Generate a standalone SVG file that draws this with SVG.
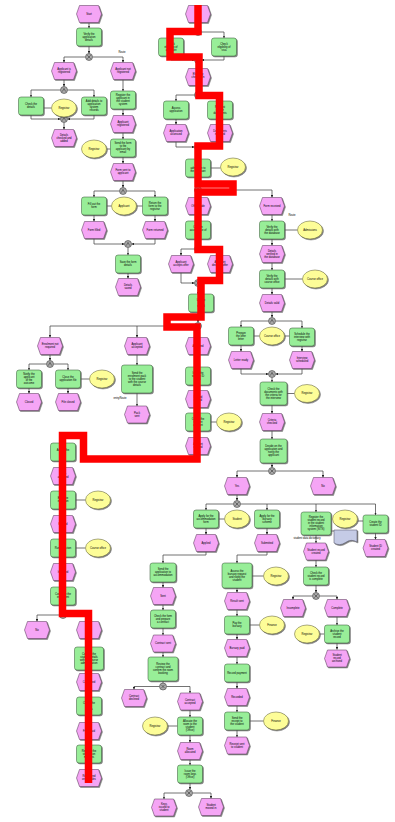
<svg xmlns="http://www.w3.org/2000/svg" width="395" height="822" viewBox="0 0 395 822">
<defs>
<style>
.ev{fill:#f5a5f5;stroke:#5e3e5e;stroke-width:.55;filter:url(#sh)}
.fn{fill:#98ee98;stroke:#3d5d3d;stroke-width:.55;filter:url(#sh)}
.or{fill:#fdfd98;stroke:#66663a;stroke-width:.55;filter:url(#sh)}
.dc{fill:#c5cbe6;stroke:#556;stroke-width:.55;filter:url(#sh)}
#connectors path{fill:none;stroke:#444;stroke-width:.75}
#connectors path.ar{marker-end:url(#ah)}
text{font-family:"Liberation Sans",Arial,sans-serif;font-size:2.7px;text-anchor:middle;fill:#000}
#hl{fill:none;stroke:#ff0000;stroke-width:7.5;stroke-linejoin:miter}
</style>
<filter id="sh" x="-20%" y="-20%" width="150%" height="150%"><feDropShadow dx="1" dy="1" stdDeviation=".35" flood-color="#555" flood-opacity=".75"/></filter>
<marker id="ah" viewBox="0 0 4 4" refX="4" refY="2" markerWidth="2.5" markerHeight="2.5" markerUnits="userSpaceOnUse" orient="auto"><path d="M0,0L4,2L0,4z" fill="#222"/></marker>
<polygon id="ev" points="-12.5,0 -9.5,-8.5 9.5,-8.5 12.5,0 9.5,8.5 -9.5,8.5"/>
<rect id="fn" x="-12.5" y="-9" width="25" height="18" rx="2.5"/>
<ellipse id="or" rx="12.5" ry="9"/>
<g id="xor"><circle r="3.5" fill="#a9a9a9" stroke="#333" stroke-width=".55"/><path d="M-1.7,-1.7L1.7,1.7M1.7,-1.7L-1.7,1.7" fill="none" stroke="#222" stroke-width=".5"/></g>
<g id="and"><circle r="3.5" fill="#a9a9a9" stroke="#333" stroke-width=".55"/><path d="M-1.6,1.5L0,-1.6L1.6,1.5" fill="none" stroke="#222" stroke-width=".5"/></g>
</defs>
<rect width="395" height="822" fill="#fff"/>

<g id="connectors">
<path class="ar" d="M89,22.5V28"/><path class="ar" d="M89,46V53.5"/>
<path class="ar" d="M85.5,57H64V62.5"/><path class="ar" d="M92.5,57H123V62.5"/>
<path class="ar" d="M64,79.5V86.5"/><path class="ar" d="M60.5,90H31V97"/><path class="ar" d="M67.5,90H94V97"/>
<path class="ar" d="M31,115V119H60.5"/><path class="ar" d="M94,115V119H67.5"/><path d="M43.5,108H51.5"/>
<path class="ar" d="M64,122.5V129.5"/><path class="ar" d="M123,79.5V91"/><path class="ar" d="M123,109V115.5"/>
<path class="ar" d="M123,132.5V139"/><path d="M106.5,149H110.5"/><path class="ar" d="M123,157V163.5"/>
<path class="ar" d="M123,180.5V187.5"/><path class="ar" d="M119.5,191H94V197"/><path class="ar" d="M126.5,191H155V197"/>
<path d="M106.5,206H111.5"/><path d="M136.5,206H142.5"/>
<path class="ar" d="M94,215V221.5"/><path class="ar" d="M155,215V221.5"/>
<path class="ar" d="M94,238.5V244H124.5"/><path class="ar" d="M155,238.5V244H131.5"/>
<path class="ar" d="M128,247.5V255"/><path class="ar" d="M128,273V278.5"/>

<path class="ar" d="M198,22.5V28.5"/><path class="ar" d="M194.5,32H171V38"/><path class="ar" d="M201.5,32H224V38"/>
<path class="ar" d="M171,56V60H194.5"/><path class="ar" d="M224,56V60H201.5"/><path class="ar" d="M198,63.5V68.5"/>
<path class="ar" d="M198,85.5V91.5"/><path class="ar" d="M194.5,95H176V101"/><path class="ar" d="M201.5,95H220V101"/>
<path class="ar" d="M176,119V124.5"/><path class="ar" d="M220,119V124.5"/>
<path class="ar" d="M176,141.5V147H194.5"/><path class="ar" d="M220,141.5V147H201.5"/>
<path class="ar" d="M198,150.5V159"/><path d="M210.5,168H220.5"/><path class="ar" d="M198,177V186.5"/>
<path class="ar" d="M198,193.5V197.5"/><path class="ar" d="M201.5,190H272V197.5"/>
<path class="ar" d="M198,214.5V221"/><path class="ar" d="M198,239V245.5"/>
<path class="ar" d="M194.5,249H181V255.5"/><path class="ar" d="M201.5,249H220V255.5"/>
<path class="ar" d="M181,272.5V283H194.5"/><path class="ar" d="M220,272.5V283H201.5"/>
<path class="ar" d="M198,286.5V294"/><path class="ar" d="M198,312V322.5"/>
<path class="ar" d="M194.5,326H50V337.5"/><path class="ar" d="M137,326V337.5"/><path class="ar" d="M198,329.5V337.5"/>
<path class="ar" d="M50,354.5V360.5"/><path class="ar" d="M46.5,364H29V370"/><path class="ar" d="M53.5,364H68V370"/>
<path d="M80.5,379H89.5"/><path class="ar" d="M29,388V393.5"/><path class="ar" d="M68,388V393.5"/>
<path class="ar" d="M137,354.5V365"/><path class="ar" d="M137,393V406"/>
<path class="ar" d="M198,354.5V367"/><path class="ar" d="M198,385V390.5"/><path class="ar" d="M198,407.5V413"/>
<path d="M210.5,422H216.5"/><path class="ar" d="M198,431V437.5"/>
<path class="ar" d="M198,454.5V459H83.5V435.5H63V443"/>
<path class="ar" d="M63,461V467.5"/><path class="ar" d="M63,484.5V491"/><path d="M75.5,500H85.5"/>
<path class="ar" d="M63,509V515.5"/><path class="ar" d="M63,532.5V539"/><path d="M75.5,548H85.5"/>
<path class="ar" d="M63,557V563.5"/><path class="ar" d="M63,580.5V587"/><path class="ar" d="M63,605V611.5"/>
<path class="ar" d="M59.5,615H37V621.5"/><path class="ar" d="M66.5,615H89V621.5"/>
<path class="ar" d="M89,638.5V647"/><path class="ar" d="M89,670V673.5"/><path class="ar" d="M89,690.5V697"/>
<path class="ar" d="M89,715V722.5"/><path class="ar" d="M89,739.5V745"/><path class="ar" d="M89,763V769.5"/>

<path class="ar" d="M272,214.5V221"/><path d="M284.5,230H297.5"/><path class="ar" d="M272,239V245.5"/>
<path class="ar" d="M272,262.5V270"/><path d="M284.5,279H302.5"/><path class="ar" d="M272,288V294.5"/>
<path class="ar" d="M272,311.5V317.5"/><path class="ar" d="M268.5,321H241V327"/><path class="ar" d="M275.5,321H302V328"/>
<path d="M253.5,336H259.5"/><path d="M284.5,336H289.5"/>
<path class="ar" d="M241,345V351.5"/><path class="ar" d="M302,346V351.5"/>
<path class="ar" d="M241,368.5V374H268.5"/><path class="ar" d="M302,368.5V374H275.5"/>
<path class="ar" d="M272,377.5V382"/><path d="M287,393.5H294.5"/><path class="ar" d="M272,405V413.5"/>
<path class="ar" d="M272,430.5V439"/><path class="ar" d="M272,463V467.5"/>
<path class="ar" d="M268.5,471H237V477.5"/><path class="ar" d="M275.5,471H323V477.5"/>
<path class="ar" d="M237,494.5V500.5"/><path class="ar" d="M233.5,504H206V510"/><path class="ar" d="M240.5,504H375.5V515"/>
<path class="ar" d="M267,504V510"/><path class="ar" d="M316,504V512"/>
<path d="M218.5,519H224.5"/><path d="M357.5,521H363"/><path d="M331,531H334"/>
<path class="ar" d="M206,528V534.5"/><path class="ar" d="M267,528V534.5"/><path class="ar" d="M316,535V543"/><path class="ar" d="M375.5,533V539.5"/>
<path class="ar" d="M206,551.5V555H163V563"/><path class="ar" d="M267,551.5V555H237V563"/>
<path d="M252,576H263.5"/><path class="ar" d="M316,560V567"/><path class="ar" d="M316,585V592.5"/>
<path class="ar" d="M312.5,596H293V599.5"/><path class="ar" d="M319.5,596H337V599.5"/>
<path class="ar" d="M337,616.5V625"/><path d="M319.5,634H324"/><path class="ar" d="M337,643V649.5"/>
<path class="ar" d="M237,588V592.5"/><path class="ar" d="M237,609.5V616"/><path d="M249.5,625H259.5"/>
<path class="ar" d="M237,634V639.5"/><path class="ar" d="M237,656.5V664"/><path class="ar" d="M237,682V688.5"/>
<path class="ar" d="M237,705.5V712"/><path d="M249.5,721H263.5"/><path class="ar" d="M237,730V737"/>
<path class="ar" d="M163,582V587.5"/><path class="ar" d="M163,604.5V610"/><path class="ar" d="M163,628V635"/>
<path class="ar" d="M163,652V657"/><path d="M163,681V683"/>
<path class="ar" d="M159.5,686.5H134V689.5"/><path class="ar" d="M166.5,686.5H190V693"/>
<path class="ar" d="M190,710V717"/><path d="M167.5,726H177.5"/><path class="ar" d="M190,735V742.5"/>
<path class="ar" d="M190,759.5V765"/><path class="ar" d="M190,783V789.5"/>
<path class="ar" d="M185.5,793H164V799"/><path class="ar" d="M192.5,793H211V798.5"/>
</g>

<g id="c1" transform="translate(89,57)"><use href="#xor"/></g>
<g id="c2" transform="translate(64,90)"><use href="#and"/></g>
<g id="c3" transform="translate(64,119)"><use href="#and"/></g>
<g id="c4" transform="translate(123,191)"><use href="#and"/></g>
<g id="c5" transform="translate(128,244)"><use href="#and"/></g>
<g id="c6" transform="translate(198,32)"><use href="#xor"/></g>
<g id="c7" transform="translate(198,60)"><use href="#xor"/></g>
<g id="c8" transform="translate(198,95)"><use href="#and"/></g>
<g id="c9" transform="translate(198,147)"><use href="#and"/></g>
<g id="c10" transform="translate(198,190)"><use href="#and"/></g>
<g id="c11" transform="translate(198,249)"><use href="#xor"/></g>
<g id="c12" transform="translate(198,283)"><use href="#xor"/></g>
<g id="c13" transform="translate(198,326)"><use href="#xor"/></g>
<g id="c14" transform="translate(50,364)"><use href="#and"/></g>
<g id="c15" transform="translate(63,615)"><use href="#xor"/></g>
<g id="c16" transform="translate(272,321)"><use href="#and"/></g>
<g id="c17" transform="translate(272,374)"><use href="#and"/></g>
<g id="c18" transform="translate(272,471)"><use href="#xor"/></g>
<g id="c19" transform="translate(237,504)"><use href="#xor"/></g>
<g id="c20" transform="translate(316,596)"><use href="#xor"/></g>
<g id="c21" transform="translate(163,686.5)"><use href="#xor"/></g>
<g id="c22" transform="translate(189,793)"><use href="#xor"/></g>

<text x="122" y="53">Route</text>
<text x="292" y="216">Route</text>
<text x="120" y="399">entryRoute</text>
<text x="307" y="538.5">student data dictionary</text>

<g id="e1" transform="translate(89,14)"><use class="ev" href="#ev"/><text y=".9">Start</text></g>
<g id="f1" transform="translate(89,37)"><use class="fn" href="#fn"/><text><tspan x="0" y="-2.1">Verify the</tspan><tspan x="0" y=".9">application</tspan><tspan x="0" y="3.9">details</tspan></text></g>
<g id="e2" transform="translate(64,71)"><use class="ev" href="#ev"/><text><tspan x="0" y="-.6">Applicant is</tspan><tspan x="0" y="2.4">registered</tspan></text></g>
<g id="e3" transform="translate(123,71)"><use class="ev" href="#ev"/><text><tspan x="0" y="-.6">Applicant not</tspan><tspan x="0" y="2.4">registered</tspan></text></g>
<g id="f2" transform="translate(31,106)"><use class="fn" href="#fn"/><text><tspan x="0" y="-.6">Check the</tspan><tspan x="0" y="2.4">details</tspan></text></g>
<g id="o1" transform="translate(64,108)"><use class="or" href="#or"/><text y=".9">Registrar</text></g>
<g id="f3" transform="translate(94,106)"><use class="fn" href="#fn"/><text><tspan x="0" y="-3.6">Add details to</tspan><tspan x="0" y="-.6">application</tspan><tspan x="0" y="2.4">system</tspan><tspan x="0" y="5.4">records</tspan></text></g>
<g id="e4" transform="translate(64,138)"><use class="ev" href="#ev"/><text><tspan x="0" y="-2.1">Details</tspan><tspan x="0" y=".9">checked and</tspan><tspan x="0" y="3.9">added</tspan></text></g>
<g id="f4" transform="translate(123,100)"><use class="fn" href="#fn"/><text><tspan x="0" y="-3.6">Register the</tspan><tspan x="0" y="-.6">applicant in</tspan><tspan x="0" y="2.4">the student</tspan><tspan x="0" y="5.4">system</tspan></text></g>
<g id="e5" transform="translate(123,124)"><use class="ev" href="#ev"/><text><tspan x="0" y="-.6">Applicant</tspan><tspan x="0" y="2.4">registered</tspan></text></g>
<g id="f5" transform="translate(123,148)"><use class="fn" href="#fn"/><text><tspan x="0" y="-3.6">Send the form</tspan><tspan x="0" y="-.6">to the</tspan><tspan x="0" y="2.4">applicant by</tspan><tspan x="0" y="5.4">email</tspan></text></g>
<g id="o2" transform="translate(94,149)"><use class="or" href="#or"/><text y=".9">Registrar</text></g>
<g id="e6" transform="translate(123,172)"><use class="ev" href="#ev"/><text><tspan x="0" y="-.6">Form sent to</tspan><tspan x="0" y="2.4">applicant</tspan></text></g>
<g id="f6" transform="translate(94,206)"><use class="fn" href="#fn"/><text><tspan x="0" y="-.6">Fill out the</tspan><tspan x="0" y="2.4">form</tspan></text></g>
<g id="o3" transform="translate(124,206)"><use class="or" href="#or"/><text y=".9">Applicant</text></g>
<g id="f7" transform="translate(155,206)"><use class="fn" href="#fn"/><text><tspan x="0" y="-2.1">Return the</tspan><tspan x="0" y=".9">form to the</tspan><tspan x="0" y="3.9">registrar</tspan></text></g>
<g id="e7" transform="translate(94,230)"><use class="ev" href="#ev"/><text y=".9">Form filled</text></g>
<g id="e8" transform="translate(155,230)"><use class="ev" href="#ev"/><text y=".9">Form returned</text></g>
<g id="f8" transform="translate(128,264)"><use class="fn" href="#fn"/><text><tspan x="0" y="-.6">Save the form</tspan><tspan x="0" y="2.4">details</tspan></text></g>
<g id="e9" transform="translate(128,287)"><use class="ev" href="#ev"/><text><tspan x="0" y="-.6">Details</tspan><tspan x="0" y="2.4">saved</tspan></text></g>

<g id="e10" transform="translate(198,14)"><use class="ev" href="#ev"/><text y=".9">Start</text></g>
<g id="f9" transform="translate(171,47)"><use class="fn" href="#fn"/><text><tspan x="0" y="-2.1">Check</tspan><tspan x="0" y=".9">eligibility of</tspan><tspan x="0" y="3.9">applicant</tspan></text></g>
<g id="f10" transform="translate(224,47)"><use class="fn" href="#fn"/><text><tspan x="0" y="-2.1">Check</tspan><tspan x="0" y=".9">eligibility of</tspan><tspan x="0" y="3.9">visa</tspan></text></g>
<g id="e11" transform="translate(198,77)"><use class="ev" href="#ev"/><text><tspan x="0" y="-2.1">Eligibility</tspan><tspan x="0" y=".9">checked in</tspan><tspan x="0" y="3.9">full</tspan></text></g>
<g id="f11" transform="translate(176,110)"><use class="fn" href="#fn"/><text><tspan x="0" y="-.6">Assess</tspan><tspan x="0" y="2.4">application</tspan></text></g>
<g id="f12" transform="translate(220,110)"><use class="fn" href="#fn"/><text><tspan x="0" y="-2.1">Request</tspan><tspan x="0" y=".9">further</tspan><tspan x="0" y="3.9">documents</tspan></text></g>
<g id="e12" transform="translate(176,133)"><use class="ev" href="#ev"/><text><tspan x="0" y="-.6">Application</tspan><tspan x="0" y="2.4">assessed</tspan></text></g>
<g id="e13" transform="translate(220,133)"><use class="ev" href="#ev"/><text><tspan x="0" y="-.6">Documents</tspan><tspan x="0" y="2.4">received</tspan></text></g>
<g id="f13" transform="translate(198,168)"><use class="fn" href="#fn"/><text><tspan x="0" y="-2.1">Offer</tspan><tspan x="0" y=".9">admission to</tspan><tspan x="0" y="3.9">the applicant</tspan></text></g>
<g id="o4" transform="translate(233,167)"><use class="or" href="#or"/><text y=".9">Registrar</text></g>
<g id="e14" transform="translate(198,206)"><use class="ev" href="#ev"/><text y=".9">Offer made</text></g>
<g id="f14" transform="translate(198,230)"><use class="fn" href="#fn"/><text><tspan x="0" y="-2.1">Confirm</tspan><tspan x="0" y=".9">acceptance of</tspan><tspan x="0" y="3.9">offer</tspan></text></g>
<g id="e16" transform="translate(181,264)"><use class="ev" href="#ev"/><text><tspan x="0" y="-.6">Applicant</tspan><tspan x="0" y="2.4">accepts offer</tspan></text></g>
<g id="e17" transform="translate(220,264)"><use class="ev" href="#ev"/><text><tspan x="0" y="-.6">Applicant</tspan><tspan x="0" y="2.4">declines offer</tspan></text></g>
<g id="f15" transform="translate(201,303)"><use class="fn" href="#fn"/><text><tspan x="0" y="-2.1">Update</tspan><tspan x="0" y=".9">the</tspan><tspan x="0" y="3.9">record</tspan></text></g>
<g id="e18" transform="translate(50,346)"><use class="ev" href="#ev"/><text><tspan x="0" y="-.6">Enrolment not</tspan><tspan x="0" y="2.4">required</tspan></text></g>
<g id="f16" transform="translate(29,379)"><use class="fn" href="#fn"/><text><tspan x="0" y="-3.6">Notify the</tspan><tspan x="0" y="-.6">applicant</tspan><tspan x="0" y="2.4">of the</tspan><tspan x="0" y="5.4">outcome</tspan></text></g>
<g id="f17" transform="translate(68,379)"><use class="fn" href="#fn"/><text><tspan x="0" y="-.6">Close the</tspan><tspan x="0" y="2.4">application file</tspan></text></g>
<g id="o5" transform="translate(102,379)"><use class="or" href="#or"/><text y=".9">Registrar</text></g>
<g id="e21" transform="translate(29,402)"><use class="ev" href="#ev"/><text y=".9">Closed</text></g>
<g id="e22" transform="translate(68,402)"><use class="ev" href="#ev"/><text y=".9">File closed</text></g>
<g id="e19" transform="translate(137,346)"><use class="ev" href="#ev"/><text><tspan x="0" y="-.6">Applicant</tspan><tspan x="0" y="2.4">accepted</tspan></text></g>
<g id="f18" transform="translate(137,379)"><rect class="fn" x="-15.5" y="-14" width="31" height="28" rx="2.5"/><text><tspan x="0" y="-5.1">Send the</tspan><tspan x="0" y="-2.1">enrolment pack</tspan><tspan x="0" y=".9">to the student</tspan><tspan x="0" y="3.9">with the course</tspan><tspan x="0" y="6.9">details</tspan></text></g>
<g id="e23" transform="translate(137,414.5)"><use class="ev" href="#ev"/><text><tspan x="0" y="-.6">Pack</tspan><tspan x="0" y="2.4">sent</tspan></text></g>
<g id="e20" transform="translate(198,346)"><use class="ev" href="#ev"/><text y=".9">Accepted</text></g>
<g id="f19" transform="translate(198,376)"><use class="fn" href="#fn"/><text><tspan x="0" y="-2.1">Issue the</tspan><tspan x="0" y=".9">student ID</tspan><tspan x="0" y="3.9">card</tspan></text></g>
<g id="e24" transform="translate(198,399)"><use class="ev" href="#ev"/><text><tspan x="0" y="-.6">ID card</tspan><tspan x="0" y="2.4">issued</tspan></text></g>
<g id="f20" transform="translate(198,422)"><use class="fn" href="#fn"/><text><tspan x="0" y="-2.1">Create the</tspan><tspan x="0" y=".9">student</tspan><tspan x="0" y="3.9">account</tspan></text></g>
<g id="o6" transform="translate(229,422)"><use class="or" href="#or"/><text y=".9">Registrar</text></g>
<g id="e25" transform="translate(198,446)"><use class="ev" href="#ev"/><text><tspan x="0" y="-.6">Account</tspan><tspan x="0" y="2.4">created</tspan></text></g>
<g id="f21" transform="translate(63,452)"><use class="fn" href="#fn"/><text><tspan x="0" y="-.6">Assign the</tspan><tspan x="0" y="2.4">tutor</tspan></text></g>
<g id="e26" transform="translate(63,476)"><use class="ev" href="#ev"/><text><tspan x="0" y="-.6">Tutor</tspan><tspan x="0" y="2.4">assigned</tspan></text></g>
<g id="f22" transform="translate(63,500)"><use class="fn" href="#fn"/><text><tspan x="0" y="-.6">Book the</tspan><tspan x="0" y="2.4">induction</tspan></text></g>
<g id="o7" transform="translate(98,500)"><use class="or" href="#or"/><text y=".9">Registrar</text></g>
<g id="e27" transform="translate(63,524)"><use class="ev" href="#ev"/><text y=".9">Booked</text></g>
<g id="f23" transform="translate(63,548)"><use class="fn" href="#fn"/><text y=".9">Run induction</text></g>
<g id="o8" transform="translate(98,548)"><use class="or" href="#or"/><text y=".9">Course office</text></g>
<g id="e28" transform="translate(63,572)"><use class="ev" href="#ev"/><text y=".9">Inducted</text></g>
<g id="f24" transform="translate(63,596)"><use class="fn" href="#fn"/><text><tspan x="0" y="-.6">Complete the</tspan><tspan x="0" y="2.4">enrolment</tspan></text></g>
<g id="e29" transform="translate(37,630)"><use class="ev" href="#ev"/><text y=".9">No</text></g>
<g id="e30" transform="translate(89,630)"><use class="ev" href="#ev"/><text y=".9">Yes</text></g>
<g id="f25" transform="translate(89,658.5)"><rect class="fn" x="-14.5" y="-11.5" width="29" height="23" rx="2.5"/><text><tspan x="0" y="-3.6">Confirm the</tspan><tspan x="0" y="-.6">student details</tspan><tspan x="0" y="2.4">with the course</tspan><tspan x="0" y="5.4">administration</tspan></text></g>
<g id="e31" transform="translate(89,682)"><use class="ev" href="#ev"/><text y=".9">Confirmed</text></g>
<g id="f26" transform="translate(89,706)"><use class="fn" href="#fn"/><text><tspan x="0" y="-2.1">Check the</tspan><tspan x="0" y=".9">fee</tspan><tspan x="0" y="3.9">status</tspan></text></g>
<g id="e32" transform="translate(89,731)"><use class="ev" href="#ev"/><text y=".9">Fees paid</text></g>
<g id="f27" transform="translate(89,754)"><use class="fn" href="#fn"/><text><tspan x="0" y="-2.1">Register the</tspan><tspan x="0" y=".9">student on</tspan><tspan x="0" y="3.9">modules</tspan></text></g>
<g id="e33" transform="translate(89,778)"><use class="ev" href="#ev"/><text><tspan x="0" y="-.6">Registered</tspan><tspan x="0" y="2.4">on modules</tspan></text></g>

<g id="e15" transform="translate(272,206)"><use class="ev" href="#ev"/><text y=".9">Form received</text></g>
<g id="f28" transform="translate(272,230)"><use class="fn" href="#fn"/><text><tspan x="0" y="-2.1">Verify the</tspan><tspan x="0" y=".9">details with</tspan><tspan x="0" y="3.9">the database</tspan></text></g>
<g id="o9" transform="translate(310,230)"><use class="or" href="#or"/><text y=".9">Admissions</text></g>
<g id="e34" transform="translate(272,254)"><use class="ev" href="#ev"/><text><tspan x="0" y="-2.1">Details</tspan><tspan x="0" y=".9">verified in</tspan><tspan x="0" y="3.9">the database</tspan></text></g>
<g id="f29" transform="translate(272,279)"><use class="fn" href="#fn"/><text><tspan x="0" y="-2.1">Verify the</tspan><tspan x="0" y=".9">details with</tspan><tspan x="0" y="3.9">course office</tspan></text></g>
<g id="o10" transform="translate(315,279)"><use class="or" href="#or"/><text y=".9">Course office</text></g>
<g id="e35" transform="translate(272,303)"><use class="ev" href="#ev"/><text y=".9">Details valid</text></g>
<g id="f30" transform="translate(241,336)"><use class="fn" href="#fn"/><text><tspan x="0" y="-2.1">Prepare</tspan><tspan x="0" y=".9">the offer</tspan><tspan x="0" y="3.9">letter</tspan></text></g>
<g id="o11" transform="translate(272,336)"><use class="or" href="#or"/><text y=".9">Course office</text></g>
<g id="f31" transform="translate(302,337)"><use class="fn" href="#fn"/><text><tspan x="0" y="-2.1">Schedule the</tspan><tspan x="0" y=".9">interview with</tspan><tspan x="0" y="3.9">registrar</tspan></text></g>
<g id="e36" transform="translate(241,360)"><use class="ev" href="#ev"/><text y=".9">Letter ready</text></g>
<g id="e37" transform="translate(302,360)"><use class="ev" href="#ev"/><text><tspan x="0" y="-.6">Interview</tspan><tspan x="0" y="2.4">scheduled</tspan></text></g>
<g id="f32" transform="translate(273.5,393.5)"><rect class="fn" x="-13.5" y="-11.5" width="27" height="23" rx="2.5"/><text><tspan x="0" y="-3.6">Check the</tspan><tspan x="0" y="-.6">documents with</tspan><tspan x="0" y="2.4">the criteria for</tspan><tspan x="0" y="5.4">the interview</tspan></text></g>
<g id="o12" transform="translate(307,393.5)"><use class="or" href="#or"/><text y=".9">Registrar</text></g>
<g id="e38" transform="translate(272,422)"><use class="ev" href="#ev"/><text><tspan x="0" y="-.6">Criteria</tspan><tspan x="0" y="2.4">checked</tspan></text></g>
<g id="f33" transform="translate(273.5,451)"><rect class="fn" x="-13.5" y="-12" width="27" height="24" rx="2.5"/><text><tspan x="0" y="-3.6">Decide on the</tspan><tspan x="0" y="-.6">application and</tspan><tspan x="0" y="2.4">notify the</tspan><tspan x="0" y="5.4">applicant</tspan></text></g>
<g id="e39" transform="translate(237,486)"><use class="ev" href="#ev"/><text y=".9">Yes</text></g>
<g id="e40" transform="translate(323,486)"><use class="ev" href="#ev"/><text y=".9">No</text></g>
<g id="fA" transform="translate(206,519)"><use class="fn" href="#fn"/><text><tspan x="0" y="-2.1">Apply for the</tspan><tspan x="0" y=".9">accommodation</tspan><tspan x="0" y="3.9">form</tspan></text></g>
<g id="oA" transform="translate(237,519)"><use class="or" href="#or"/><text y=".9">Student</text></g>
<g id="fB" transform="translate(267,519)"><use class="fn" href="#fn"/><text><tspan x="0" y="-2.1">Apply for the</tspan><tspan x="0" y=".9">bursary</tspan><tspan x="0" y="3.9">scheme</tspan></text></g>
<g id="fC" transform="translate(316,523.5)"><rect class="fn" x="-15" y="-11.5" width="30" height="23" rx="2.5"/><text><tspan x="0" y="-5.1">Register the</tspan><tspan x="0" y="-2.1">student record</tspan><tspan x="0" y=".9">in the student</tspan><tspan x="0" y="3.9">information</tspan><tspan x="0" y="6.9">system (SITS)</tspan></text></g>
<g id="oC" transform="translate(345,519)"><use class="or" href="#or"/><text y=".9">Registrar</text></g>
<g id="dC" transform="translate(334,530)"><path class="dc" d="M0,0H23V12Q17.25,8.5 11.5,12.5T0,13Z"/></g>
<g id="fD" transform="translate(375.5,524)"><use class="fn" href="#fn"/><text><tspan x="0" y="-.6">Create the</tspan><tspan x="0" y="2.4">student ID</tspan></text></g>
<g id="eA" transform="translate(206,543)"><use class="ev" href="#ev"/><text y=".9">Applied</text></g>
<g id="eB" transform="translate(267,543)"><use class="ev" href="#ev"/><text y=".9">Submitted</text></g>
<g id="eC" transform="translate(316,551.5)"><use class="ev" href="#ev"/><text><tspan x="0" y="-.6">Student record</tspan><tspan x="0" y="2.4">created</tspan></text></g>
<g id="eD" transform="translate(375.5,548)"><use class="ev" href="#ev"/><text><tspan x="0" y="-.6">Student ID</tspan><tspan x="0" y="2.4">created</tspan></text></g>

<g id="fE1" transform="translate(163,572.5)"><rect class="fn" x="-13" y="-9.5" width="26" height="19" rx="2.5"/><text><tspan x="0" y="-2.1">Send the</tspan><tspan x="0" y=".9">application to</tspan><tspan x="0" y="3.9">accommodation</tspan></text></g>
<g id="eE1" transform="translate(163,596)"><use class="ev" href="#ev"/><text y=".9">Sent</text></g>
<g id="fE2" transform="translate(163,619)"><use class="fn" href="#fn"/><text><tspan x="0" y="-2.1">Check the form</tspan><tspan x="0" y=".9">and prepare</tspan><tspan x="0" y="3.9">a contract</tspan></text></g>
<g id="eE2" transform="translate(163,643.5)"><use class="ev" href="#ev"/><text y=".9">Contract sent</text></g>
<g id="fE3" transform="translate(163,669)"><rect class="fn" x="-15" y="-12" width="30" height="24" rx="2.5"/><text><tspan x="0" y="-3.6">Review the</tspan><tspan x="0" y="-.6">contract and</tspan><tspan x="0" y="2.4">confirm the room</tspan><tspan x="0" y="5.4">booking</tspan></text></g>
<g id="eE3" transform="translate(134,698)"><use class="ev" href="#ev"/><text><tspan x="0" y="-.6">Contract</tspan><tspan x="0" y="2.4">declined</tspan></text></g>
<g id="eE4" transform="translate(190,701.5)"><use class="ev" href="#ev"/><text><tspan x="0" y="-.6">Contract</tspan><tspan x="0" y="2.4">accepted</tspan></text></g>
<g id="fE4" transform="translate(190,726)"><use class="fn" href="#fn"/><text><tspan x="0" y="-3.6">Allocate the</tspan><tspan x="0" y="-.6">room to the</tspan><tspan x="0" y="2.4">student</tspan><tspan x="0" y="5.4">(Office)</tspan></text></g>
<g id="oE4" transform="translate(155,726)"><use class="or" href="#or"/><text y=".9">Registrar</text></g>
<g id="eE5" transform="translate(190,751)"><use class="ev" href="#ev"/><text><tspan x="0" y="-.6">Room</tspan><tspan x="0" y="2.4">allocated</tspan></text></g>
<g id="fE5" transform="translate(190,774)"><use class="fn" href="#fn"/><text><tspan x="0" y="-2.1">Issue the</tspan><tspan x="0" y=".9">room keys</tspan><tspan x="0" y="3.9">(Office)</tspan></text></g>
<g id="eE6" transform="translate(164,807.5)"><use class="ev" href="#ev"/><text><tspan x="0" y="-2.1">Keys</tspan><tspan x="0" y=".9">issued to</tspan><tspan x="0" y="3.9">student</tspan></text></g>
<g id="eE7" transform="translate(211,807)"><use class="ev" href="#ev"/><text><tspan x="0" y="-.6">Student</tspan><tspan x="0" y="2.4">moved in</tspan></text></g>

<g id="fF1" transform="translate(237,575.5)"><rect class="fn" x="-15" y="-12.5" width="30" height="25" rx="2.5"/><text><tspan x="0" y="-3.6">Assess the</tspan><tspan x="0" y="-.6">bursary request</tspan><tspan x="0" y="2.4">and notify the</tspan><tspan x="0" y="5.4">student</tspan></text></g>
<g id="oF1" transform="translate(276,576)"><use class="or" href="#or"/><text y=".9">Registrar</text></g>
<g id="eF1" transform="translate(237,601)"><use class="ev" href="#ev"/><text y=".9">Result sent</text></g>
<g id="fF2" transform="translate(237,625)"><use class="fn" href="#fn"/><text><tspan x="0" y="-.6">Pay the</tspan><tspan x="0" y="2.4">bursary</tspan></text></g>
<g id="oF2" transform="translate(272,625)"><use class="or" href="#or"/><text y=".9">Finance</text></g>
<g id="eF2" transform="translate(237,648)"><use class="ev" href="#ev"/><text y=".9">Bursary paid</text></g>
<g id="fF3" transform="translate(237,673)"><use class="fn" href="#fn"/><text y=".9">Record payment</text></g>
<g id="eF3" transform="translate(237,697)"><use class="ev" href="#ev"/><text y=".9">Recorded</text></g>
<g id="fF4" transform="translate(237,721)"><use class="fn" href="#fn"/><text><tspan x="0" y="-2.1">Send the</tspan><tspan x="0" y=".9">receipt to</tspan><tspan x="0" y="3.9">the student</tspan></text></g>
<g id="oF4" transform="translate(276,721)"><use class="or" href="#or"/><text y=".9">Finance</text></g>
<g id="eF4" transform="translate(237,745.5)"><use class="ev" href="#ev"/><text><tspan x="0" y="-.6">Receipt sent</tspan><tspan x="0" y="2.4">to student</tspan></text></g>

<g id="fG1" transform="translate(316,576)"><use class="fn" href="#fn"/><text><tspan x="0" y="-2.1">Check the</tspan><tspan x="0" y=".9">student record</tspan><tspan x="0" y="3.9">is complete</tspan></text></g>
<g id="eG1" transform="translate(293,608)"><use class="ev" href="#ev"/><text y=".9">Incomplete</text></g>
<g id="eG2" transform="translate(337,608)"><use class="ev" href="#ev"/><text y=".9">Complete</text></g>
<g id="fG2" transform="translate(337,634)"><use class="fn" href="#fn"/><text><tspan x="0" y="-2.1">Archive the</tspan><tspan x="0" y=".9">student</tspan><tspan x="0" y="3.9">record</tspan></text></g>
<g id="oG2" transform="translate(307,634)"><use class="or" href="#or"/><text y=".9">Registrar</text></g>
<g id="eG3" transform="translate(337,658.5)"><use class="ev" href="#ev"/><text><tspan x="0" y="-2.1">Student</tspan><tspan x="0" y=".9">record</tspan><tspan x="0" y="3.9">archived</tspan></text></g>

<path id="hl" d="M198,5V31.5H170V57H199V95.5H219.5V146H198V184H233V192H198V249.5H219.5V280.5H201V317H167V327H197V459H83.5V435.5H62.5V613.5H88.5V783"/>
</svg>
